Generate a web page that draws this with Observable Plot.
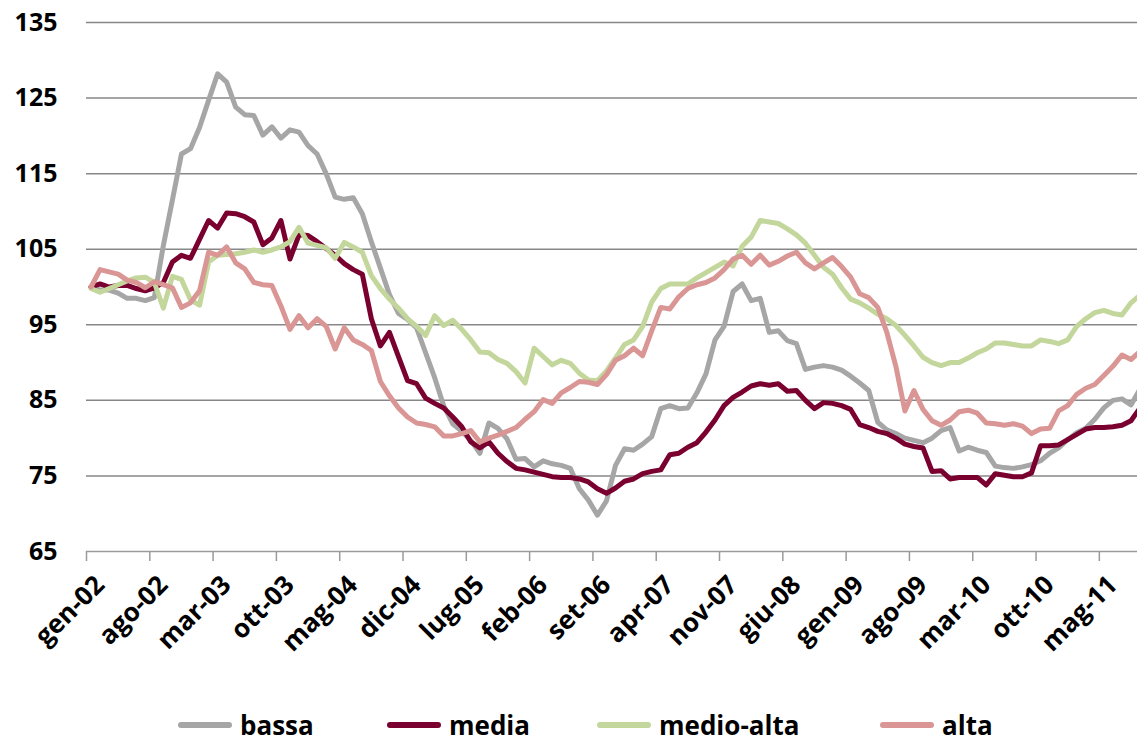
<!DOCTYPE html>
<html>
<head>
<meta charset="utf-8">
<script src="https://cdn.jsdelivr.net/npm/d3@7"></script>
<script src="https://cdn.jsdelivr.net/npm/@observablehq/plot@0.6"></script>
<style>
  body { margin: 0; background: #fff; font-family: "Open Sans", sans-serif; overflow: hidden; }
  #chart svg { display: block; }
  #legend { height: 82px; position: relative; }
  .item { position: absolute; top: 51px; display: flex; align-items: center; height: 28px; line-height: 28px;
          font-family: "Open Sans", sans-serif; font-weight: 700; font-size: 26px; color: #000; }
  .swatch { width: 54px; height: 6px; border-radius: 3px; margin-right: 8px; }
</style>
</head>
<body>
<div id="chart"></div>
<div id="legend"></div>
<script>
// Tick labels (every 7 months, starting gen-02)
const tickLabels = ["gen-02","ago-02","mar-03","ott-03","mag-04","dic-04","lug-05","feb-06","set-06",
  "apr-07","nov-07","giu-08","gen-09","ago-09","mar-10","ott-10","mag-11"];
const yTicks = [65, 75, 85, 95, 105, 115, 125, 135];

const seriesNames = ["bassa", "media", "medio-alta", "alta"];
const seriesColors = ["#A6A6A6", "#7A0030", "#C3D69B", "#D99694"];

// Monthly index values, gen-02 onward
const bassa = [100,99.6,99.6,99.2,98.5,98.5,98.2,98.6,105.5,111.5,
  117.6,118.3,121.1,124.7,128.2,127.1,123.8,122.8,122.7,120.1,
  121.2,119.7,120.8,120.5,118.7,117.6,115,111.9,111.6,111.8,
  109.7,106,102.5,99,96.5,95.7,94.6,91.3,88,84.3,
  81.9,80.9,79.7,78,82,81.3,79.9,77.2,77.3,76.2,
  77,76.6,76.4,76,73.3,71.8,69.8,71.7,76.4,78.6,
  78.4,79.2,80.2,83.9,84.3,83.9,84,86,88.5,93,
  94.8,99.4,100.4,98.2,98.5,94,94.2,92.9,92.5,89.1,
  89.4,89.6,89.4,89,88.2,87.3,86.3,82.1,81.1,80.6,
  80,79.7,79.4,80,81,81.4,78.3,78.8,78.4,78.1,
  76.3,76.1,76,76.2,76.5,77,78,78.7,79.8,80.7,
  81.3,82.5,84,85,85.2,84.4,86.5];

const media = [100,100.4,100,100.2,100.2,99.8,99.5,99.9,100.6,103.3,
  104.2,103.8,106.3,108.8,107.8,109.8,109.7,109.3,108.6,105.6,
  106.5,108.8,103.7,106.9,106.8,106,105.1,104.2,103.1,102.3,
  101.7,95.8,92.2,94,90.8,87.6,87.2,85.3,84.6,84,
  82.8,81.5,79.5,78.7,79.5,78,76.9,76,75.8,75.5,
  75.2,74.9,74.8,74.8,74.6,74.2,73.3,72.7,73.4,74.3,
  74.6,75.3,75.6,75.8,77.8,78,78.8,79.4,80.8,82.4,
  84.3,85.4,86.1,86.9,87.2,87,87.2,86.2,86.3,85,
  83.9,84.7,84.6,84.3,83.8,81.8,81.4,80.9,80.6,80,
  79.2,78.9,78.7,75.6,75.7,74.6,74.8,74.8,74.8,73.8,
  75.3,75.1,74.9,74.9,75.4,79,79,79.1,79.8,80.5,
  81.2,81.4,81.4,81.5,81.7,82.3,84];

const medioAlta = [99.8,99.3,99.8,100.3,100.8,101.2,101.3,100.6,97.2,101.4,
  101,98.3,97.6,103.3,104.2,104.3,104.4,104.6,104.9,104.6,
  104.9,105.3,106,107.9,105.8,105.5,105.2,103.8,105.9,105.3,
  104.6,101.5,99.8,98.4,97.2,95.8,94.8,93.6,96.2,94.9,
  95.6,94.4,93,91.4,91.3,90.4,89.9,88.8,87.3,91.9,
  90.8,89.7,90.3,89.9,88.6,87.7,87.6,88.9,90.6,92.4,
  93,94.8,98,99.8,100.4,100.4,100.4,101.2,101.9,102.6,
  103.3,102.8,105.4,106.6,108.8,108.6,108.4,107.7,106.9,105.8,
  104.2,102.6,101.7,99.9,98.4,97.9,97.2,96.4,95.8,94.9,
  93.6,92.2,90.7,90,89.6,90,90,90.6,91.3,91.8,
  92.6,92.6,92.4,92.2,92.2,93,92.8,92.5,93,94.8,
  95.8,96.6,96.9,96.5,96.3,97.9,98.9];

const alta = [100,102.3,102,101.7,100.9,100.6,99.9,100.7,100.3,99.9,
  97.3,97.9,99.5,104.6,104.2,105.3,103.2,102.4,100.6,100.3,
  100.2,97.5,94.4,96.2,94.6,95.8,94.8,91.8,94.6,93,
  92.4,91.6,87.5,85.6,84,82.8,82,81.8,81.5,80.3,
  80.3,80.6,81,79.5,80,80.4,80.9,81.4,82.5,83.5,
  85.1,84.6,86,86.7,87.5,87.4,87.1,88.4,90.3,90.9,
  91.9,90.9,94.2,97.3,97.1,98.7,99.8,100.3,100.6,101.2,
  102.3,103.7,104.2,103,104.2,102.9,103.4,104.1,104.6,103.2,
  102.4,103.2,103.9,102.7,101.3,99.1,98.6,97.3,94,89.5,
  83.6,86.3,83.8,82.3,81.7,82.4,83.5,83.7,83.3,82,
  81.9,81.7,81.9,81.6,80.6,81.2,81.3,83.6,84.3,85.8,
  86.6,87.1,88.3,89.5,91,90.4,91.5];

const seriesValues = [bassa, media, medioAlta, alta];
const data = [];
seriesNames.forEach((name, k) => seriesValues[k].forEach((v, i) => data.push({i, v, s: name})));

const labelIdx = tickLabels.map((_, k) => k * 7);
const boundaries = tickLabels.map((_, k) => k * 7 - 0.5);

const chart = Plot.plot({
  width: 1137,
  height: 660,
  marginLeft: 86,
  marginRight: 0,
  marginTop: 22,
  marginBottom: 109,
  x: {domain: [-0.5, 115.72]},
  y: {domain: [65, 135]},
  color: {domain: seriesNames, range: seriesColors},
  style: {fontFamily: "'Open Sans', sans-serif", fontWeight: 700, color: "#000", background: "#fff"},
  marks: [
    Plot.ruleY(yTicks.slice(1), {stroke: "#878787", strokeWidth: 1.5}),
    Plot.ruleY([65], {stroke: "#9a9a9a", strokeWidth: 1.5}),
    Plot.axisY({ticks: yTicks, tickSize: 0, tickPadding: 29, fontSize: 25, fontWeight: 700, label: null,
                tickFormat: d => String(d)}),
    Plot.axisX({ticks: boundaries, tickSize: 10, tickFormat: () => "", stroke: "#9a9a9a", strokeWidth: 1.5, label: null}),
    Plot.axisX({ticks: labelIdx, tickSize: 0, tickPadding: 29, tickRotate: -45, fontSize: 26, fontWeight: 700, label: null,
                dx: 9, tickFormat: d => tickLabels[Math.round(d / 7)]}),
    Plot.line(data, {x: "i", y: "v", stroke: "s", strokeWidth: 5, strokeLinejoin: "round", strokeLinecap: "round", clip: true})
  ]
});
document.getElementById("chart").append(chart);

// Legend
const legendLeft = [178, 387, 597, 880];
const legend = document.getElementById("legend");
seriesNames.forEach((name, k) => {
  const item = document.createElement("div");
  item.className = "item";
  item.style.left = legendLeft[k] + "px";
  const sw = document.createElement("span");
  sw.className = "swatch";
  sw.style.background = seriesColors[k];
  const tx = document.createElement("span");
  tx.textContent = name;
  item.append(sw, tx);
  legend.append(item);
});
</script>
</body>
</html>
